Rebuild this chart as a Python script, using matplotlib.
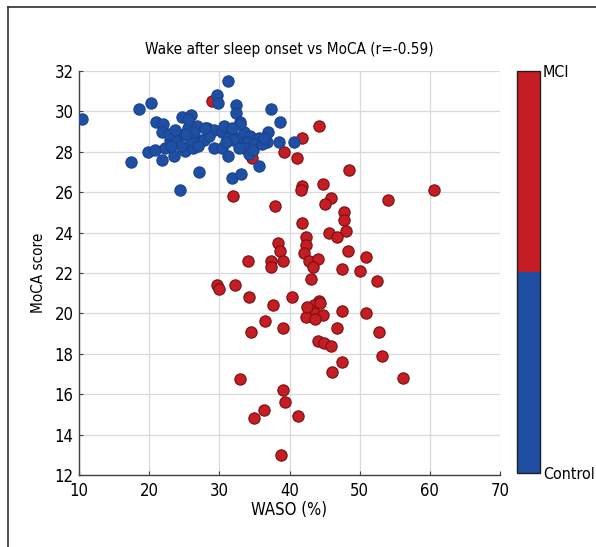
import numpy as np
import matplotlib
matplotlib.use('Agg')
import matplotlib.pyplot as plt
from matplotlib.colors import ListedColormap, Normalize
from matplotlib.cm import ScalarMappable
from matplotlib.lines import Line2D

plt.rcParams['font.family'] = ['DejaVu Sans']
plt.rcParams['font.stretch'] = 'condensed'

# Control group: WASO (%) and MoCA score
waso_ctl = [10.4, 17.4, 18.6, 20.3, 20.9, 22.0, 21.8, 19.9, 20.8, 22.3,
            21.8, 23.5, 24.4, 27.1, 25.1, 26.3, 23.0, 24.0, 24.7, 26.0,
            25.6, 26.8, 24.9, 27.5, 28.2, 29.2, 29.7, 25.9, 26.4, 31.3,
            29.8, 32.4, 32.3, 33.0, 37.3, 38.7, 37.0, 27.8, 29.2, 30.4,
            31.3, 32.5, 33.5, 34.4, 35.6, 33.9, 35.0, 33.5, 34.2, 36.8,
            38.5, 40.6, 30.4, 31.3, 35.6, 31.8, 33.1, 30.6, 33.0, 32.0,
            22.8, 23.7, 24.6, 25.3, 26.9, 28.5, 30.9, 31.8, 32.8, 34.8,
            36.1, 27.9, 23.1, 25.5, 36.4]
moca_ctl = [29.6, 27.5, 30.1, 30.4, 29.5, 29.4, 29.0, 28.0, 28.1, 28.2,
            27.6, 27.8, 26.1, 27.0, 28.05, 28.2, 28.6, 28.7, 29.7, 29.8,
            29.2, 29.3, 28.9, 28.6, 29.2, 28.2, 30.8, 28.6, 29.0, 31.5,
            30.4, 30.3, 29.9, 29.5, 30.1, 29.5, 29.0, 28.6, 29.1, 29.0,
            28.7, 28.7, 29.0, 28.8, 28.7, 28.5, 28.4, 28.2, 27.9, 28.5,
            28.5, 28.5, 28.2, 27.8, 27.3, 26.7, 26.9, 29.3, 29.4, 28.6,
            28.9, 29.1, 28.3, 28.9, 28.3, 28.8, 28.5, 29.2, 28.2, 28.1,
            28.4, 29.2, 28.3, 29.6, 28.7]

# MCI group
waso_mci = [29.0, 39.2, 41.0, 41.8, 44.2, 34.7, 31.9, 48.5,
            41.8, 41.6, 44.7, 45.9, 45.1, 37.9, 47.7, 47.8, 48.0, 45.6, 46.8, 41.8,
            42.4, 42.4, 42.0, 42.8, 44.0, 43.3, 38.3, 38.7, 39.0, 37.4,
            37.3, 34.1, 48.3, 50.9, 47.5, 50.1, 52.5, 43.0, 29.7, 29.9,
            32.2, 34.2, 37.7, 40.4, 44.2, 43.5, 44.4, 43.5, 44.8, 42.4,
            43.7, 47.5, 50.9, 52.8, 36.5, 39.0, 34.5, 46.7, 44.0, 44.9,
            45.9, 47.5, 46.1, 53.2, 32.9, 39.0, 39.4, 36.3, 35.0, 41.2,
            38.8, 60.6, 54.0, 56.2, 42.5]
moca_mci = [30.5, 28.0, 27.7, 28.7, 29.3, 27.7, 25.8, 27.1,
            26.3, 26.1, 26.4, 25.7, 25.4, 25.3, 25.0, 24.6, 24.1, 24.0, 23.8, 24.5,
            23.8, 23.4, 23.0, 22.6, 22.7, 22.3, 23.5, 23.1, 22.6, 22.6,
            22.3, 22.6, 23.1, 22.8, 22.2, 22.1, 21.6, 21.7, 21.4, 21.2,
            21.4, 20.8, 20.4, 20.8, 20.6, 20.4, 20.5, 20.0, 19.9, 19.8,
            19.7, 20.1, 20.0, 19.1, 19.6, 19.3, 19.1, 19.3, 18.65, 18.55,
            18.4, 17.6, 17.1, 17.9, 16.75, 16.2, 15.6, 15.2, 14.8, 14.9,
            13.0, 26.1, 25.6, 16.8, 20.3]

blue = '#1f4fa3'
red = '#c41e24'

fig = plt.figure(figsize=(5.96, 5.47), dpi=100)
ax = fig.add_axes([0.1326, 0.1316, 0.7064, 0.7386])

ax.scatter(waso_mci, moca_mci, s=66, color=red, edgecolors='#7a0e10', linewidths=0.8, zorder=3)
ax.scatter(waso_ctl, moca_ctl, s=66, color=blue, edgecolors='#1a4290', linewidths=0.8, zorder=4)

ax.set_xlim(10, 70)
ax.set_ylim(12, 32)
ax.set_xticks(range(10, 71, 10))
ax.set_yticks(range(12, 33, 2))
ax.grid(True, color='#d9d9d9', linewidth=0.9)
ax.set_axisbelow(True)
for s in ['top', 'right']:
    ax.spines[s].set_visible(False)
for s in ['left', 'bottom']:
    ax.spines[s].set_color('#404040')
    ax.spines[s].set_linewidth(1.0)
ax.tick_params(direction='in', length=3, color='#404040', labelsize=12)
ax.tick_params(axis='x', pad=5)
ax.tick_params(axis='y', pad=4)
ax.set_xlabel('WASO (%)', fontsize=12, labelpad=1)
ax.set_ylabel('MoCA score', fontsize=11, labelpad=6)
ax.set_title('Wake after sleep onset vs MoCA (r=-0.59)', fontsize=11, pad=12)

# two-colour group bar
cax = fig.add_axes([0.8674, 0.135, 0.0386, 0.735])
sm = ScalarMappable(norm=Normalize(0, 1), cmap=ListedColormap([blue, red]))
cb = fig.colorbar(sm, cax=cax, ticks=[0, 1])
cb.ax.set_yticklabels(['Control', 'MCI'])
cb.ax.tick_params(length=0, labelsize=11.5, pad=2)
cb.outline.set_edgecolor('#202020')
cb.outline.set_linewidth(1.0)

# outer frame lines
fig.add_artist(Line2D([8 / 596, 8 / 596], [0, 1 - 7 / 547], color='#303030', linewidth=1.2))
fig.add_artist(Line2D([8 / 596, 1], [1 - 7 / 547, 1 - 7 / 547], color='#303030', linewidth=1.2))

fig.savefig('out.png', dpi=100)
